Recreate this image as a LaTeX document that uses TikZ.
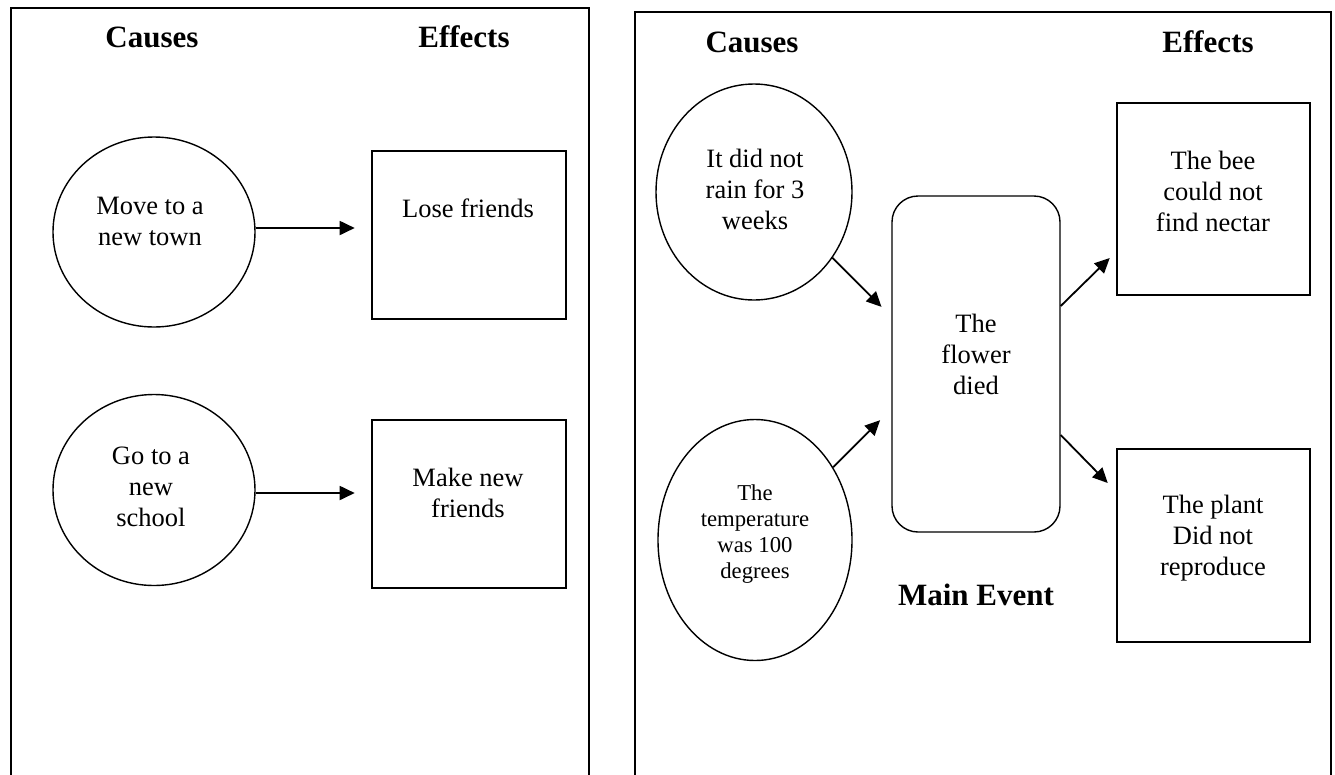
\documentclass[tikz,border=0pt]{standalone}
\usepackage{fontspec}
\setmainfont{Liberation Serif}
\usetikzlibrary{arrows.meta,shapes.geometric}
\begin{document}
\begin{tikzpicture}[x=1pt,y=-1pt,
  frameline/.style={line width=1.8pt},
  shapeline/.style={draw,line width=1.4pt,inner sep=0pt},
  causeshape/.style={shapeline,ellipse},
  effectbox/.style={shapeline,rectangle},
  mainbox/.style={shapeline,rectangle,rounded corners=26pt},
  bodytext/.style={align=center,inner sep=0pt,font=\fontsize{26.5}{31}\selectfont},
  smalltext/.style={align=center,inner sep=0pt,font=\fontsize{22.7}{26}\selectfont},
  headtext/.style={inner sep=0pt,font=\fontsize{31}{36}\selectfont\bfseries},
  arrowline/.style={line width=1.8pt,-{Triangle[length=15pt,width=14pt]}}
]
\useasboundingbox (0,0) rectangle (1335,774);
\fill[white] (0,0) rectangle (1335,774);
% frames
\draw[frameline] (11,776) -- (11,8) -- (589,8) -- (589,776);
\draw[frameline] (635,776) -- (635,12) -- (1331,12) -- (1331,776);

% ---------- left panel ----------
\node[headtext] (lcauses) at (152,37) {Causes};
\node[headtext] (leffects) at (464,37) {Effects};

\node[causeshape,minimum width=202pt,minimum height=190pt] (c1) at (154,232) {};
\node[bodytext] (c1t) at (150,221) {Move to a\\new town};
\node[effectbox,minimum width=194pt,minimum height=168pt] (b1) at (469,235) {};
\node[bodytext] (b1t) at (468,208) {Lose friends};
\draw[arrowline] ([yshift=4pt]c1.east) -- +(99,0);

\node[causeshape,minimum width=202pt,minimum height=191pt] (c2) at (154,490) {};
\node[bodytext] (c2t) at (151,487) {Go to a\\new\\school};
\node[effectbox,minimum width=194pt,minimum height=168pt] (b2) at (469,504) {};
\node[bodytext] (b2t) at (468,493) {Make new\\friends};
\draw[arrowline] ([yshift=-3pt]c2.east) -- +(99,0);

% ---------- right panel ----------
\node[headtext] (rcauses) at (752,42) {Causes};
\node[headtext] (reffects) at (1208,42) {Effects};

\node[causeshape,minimum width=196pt,minimum height=216pt] (e1) at (754,192) {};
\node[bodytext] (e1t) at (755,189) {It did not\\rain for 3\\weeks};

\node[causeshape,minimum width=194pt,minimum height=241pt] (e2) at (755,540) {};
\node[smalltext] (e2t) at (755,534) {The\\temperature\\was 100\\degrees};

\node[mainbox,minimum width=168pt,minimum height=336pt] (m) at (976,364) {};
\node[bodytext] (mt) at (976,354) {The\\flower\\died};
\node[headtext] (mainev) at (976,595) {Main Event};

\node[effectbox,minimum width=193pt,minimum height=192pt] (f1) at (1213.5,199) {};
\node[bodytext] (f1t) at (1213,191) {The bee\\could not\\find nectar};

\node[effectbox,minimum width=193pt,minimum height=193pt] (f2) at (1213.5,545.5) {};
\node[bodytext] (f2t) at (1213,538) {The plant\\Did not\\reproduce};

\draw[arrowline] (e1.-40) -- +(49,49);
\draw[arrowline] (e2.43) -- +(47,-47);
\draw[arrowline] ([yshift=58pt]m.east) -- +(49,-48);
\draw[arrowline] ([yshift=-71pt]m.east) -- +(47,48);
\end{tikzpicture}
\end{document}
